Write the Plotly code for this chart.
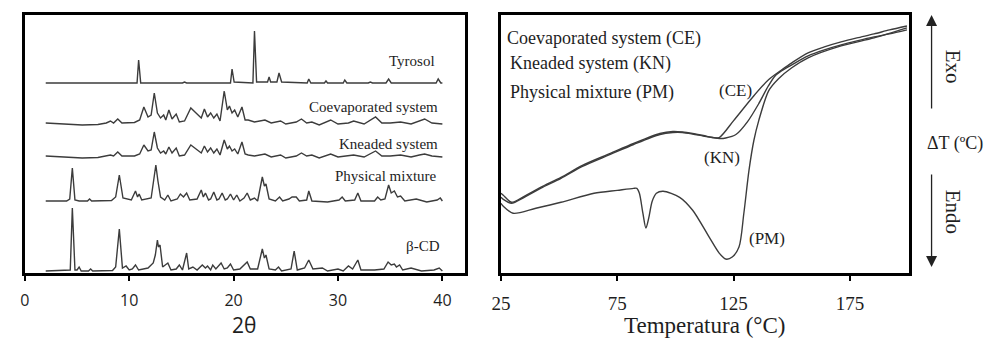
import plotly.graph_objects as go

W, H = 987, 339

# ---------------- XRD data (2θ, intensity offset for stacking) ----------------
tyrosol = [(2, 190), (10.75, 190), (10.9, 213), (11.1, 190), (15.1, 190), (15.3, 191), (15.5, 190),
           (19.7, 190), (19.85, 204), (20.05, 191), (21.85, 190), (22.0, 242), (22.2, 191),
           (23.25, 191), (23.4, 196), (23.55, 191), (24.15, 191), (24.35, 200), (24.6, 191),
           (27.05, 190), (27.2, 194), (27.4, 190), (28.7, 190), (28.85, 192), (29.0, 190),
           (30.5, 190), (30.65, 193), (30.85, 190), (32.9, 190), (33.1, 191), (33.3, 190),
           (34.6, 190), (34.85, 194), (35.1, 190), (39.4, 190), (39.6, 194), (39.85, 190), (40, 190)]

coevaporated = [(2, 150), (4, 149), (5.5, 148), (7, 148.5), (7.8, 150), (8.2, 152), (8.5, 150), (8.9, 154),
                (9.3, 150), (10.5, 150.5), (11.0, 153), (11.4, 166), (11.8, 156), (12.1, 158), (12.4, 180),
                (12.7, 160), (13.0, 155), (13.3, 158), (13.5, 153), (13.8, 163), (14.1, 154), (14.5, 159),
                (14.8, 151), (15.3, 152), (15.9, 165), (16.4, 160), (16.9, 155), (17.2, 164), (17.5, 156),
                (17.8, 160), (18.1, 155), (18.4, 159), (18.7, 152), (19.1, 182), (19.4, 163), (19.6, 167),
                (19.85, 160), (20.1, 163), (20.4, 156), (20.8, 166), (21.1, 153), (21.4, 153), (22, 151),
                (23, 153), (23.6, 150), (24.5, 152), (25, 149), (26, 151), (26.5, 154), (27, 150),
                (27.5, 151), (28.2, 148), (29.3, 153), (30, 149), (31, 150), (31.5, 152), (32.5, 149),
                (33.6, 156), (34.2, 150), (35, 150), (36, 151), (37, 149), (37.8, 152), (38.3, 154),
                (39, 150), (40, 149)]

kneaded = [(2, 117), (4, 116), (5.5, 115), (7, 115.5), (7.8, 117), (8.2, 118), (8.5, 117), (8.9, 121),
           (9.3, 117), (10.5, 117), (11.0, 119), (11.4, 128), (11.8, 122), (12.1, 123), (12.4, 141),
           (12.7, 125), (13.0, 120), (13.3, 122), (13.5, 119), (13.8, 126), (14.1, 120), (14.5, 125),
           (14.8, 117), (15.3, 118), (15.9, 128), (16.4, 124), (16.9, 120), (17.2, 127), (17.5, 121),
           (17.8, 125), (18.1, 120), (18.4, 124), (18.7, 118), (19.1, 133), (19.4, 124), (19.6, 127),
           (19.85, 122), (20.1, 124), (20.4, 119), (20.8, 131), (21.1, 119), (21.4, 118), (22, 117),
           (23, 119), (23.6, 116), (24.5, 118), (25, 115), (26, 117), (26.5, 120), (27, 117),
           (27.5, 118), (28.2, 115), (29.3, 119), (30, 116), (31, 117), (31.5, 118), (32.5, 116),
           (33.6, 122), (34.2, 117), (35, 117), (36, 118), (37, 116), (37.8, 118), (38.3, 119),
           (39, 117), (40, 116)]

physical_mixture = [(2, 72), (4.0, 72), (4.3, 74), (4.55, 105), (4.8, 73), (5.2, 72), (6.0, 72), (6.2, 74),
                    (6.4, 72), (8.3, 72.5), (8.7, 76), (9.05, 98), (9.4, 75), (10.2, 73), (10.6, 82),
                    (10.8, 76), (10.95, 79), (11.2, 73), (12.1, 75), (12.55, 108), (12.75, 92), (13.0, 76),
                    (13.4, 73), (13.7, 78), (14.0, 72), (14.6, 74), (14.9, 79), (15.2, 76), (15.5, 80),
                    (15.8, 73), (16.5, 74), (16.9, 83), (17.1, 76), (17.3, 80), (17.6, 73), (17.8, 74),
                    (18.1, 81), (18.4, 73), (18.6, 74), (18.9, 80), (19.2, 73), (19.4, 74), (19.7, 79),
                    (20.0, 73), (20.3, 78), (20.6, 72), (21.0, 75), (21.3, 80), (21.6, 73), (22.0, 75),
                    (22.3, 72), (22.75, 96), (22.95, 87), (23.1, 89), (23.4, 74), (24.0, 72), (24.4, 76),
                    (24.7, 72), (25.3, 74), (25.6, 76), (26.0, 76), (26.3, 72), (27.0, 73), (27.2, 82),
                    (27.5, 72), (29, 71), (30.1, 73), (30.4, 76), (30.7, 72), (31.6, 73), (31.9, 80),
                    (32.2, 72), (33.5, 72), (33.8, 76), (34.1, 73), (34.5, 74), (34.85, 88), (35.1, 80),
                    (35.4, 82), (35.7, 76), (36.0, 77), (36.4, 72), (37.5, 74), (38.5, 71), (39.5, 73),
                    (39.8, 75), (40, 72)]

beta_cd = [(2, 2), (4.2, 2.5), (4.35, 3), (4.55, 65), (4.8, 3), (5.0, 3), (5.2, 6), (5.4, 2), (6.1, 2),
           (6.3, 4), (6.5, 2), (8.4, 2.5), (8.7, 6), (9.05, 44), (9.35, 5), (9.7, 7), (10.0, 3), (10.3, 4),
           (10.6, 8), (10.9, 3), (11.8, 5), (12.3, 10), (12.5, 18), (12.7, 33), (12.8, 26), (12.95, 28),
           (13.2, 6), (13.7, 10), (14.0, 3), (14.5, 4), (14.8, 8), (15.1, 3), (15.5, 20), (15.7, 4),
           (16.1, 6), (16.5, 3), (17.0, 8), (17.3, 5), (17.5, 7), (17.8, 3), (18.0, 8), (18.3, 4),
           (18.8, 10), (19.1, 4), (19.4, 5), (19.7, 9), (20.0, 3), (20.6, 4), (21.3, 11), (21.6, 4),
           (22.3, 4), (22.75, 24), (22.95, 15), (23.1, 18), (23.4, 4), (24.0, 3), (24.3, 6), (24.6, 2),
           (25.5, 4), (25.8, 22), (26.1, 3), (26.8, 5), (27.2, 13), (27.6, 4), (28.5, 5), (29, 2),
           (30, 4), (30.5, 2), (31.0, 7), (31.4, 4), (31.9, 13), (32.2, 3), (33.5, 3), (34.4, 4),
           (34.8, 11), (35.1, 8), (35.4, 9), (35.6, 6), (35.9, 8), (36.2, 3), (37, 5), (38, 2),
           (39.2, 3), (39.7, 5), (40, 2)]

xrd_series = [tyrosol, coevaporated, kneaded, physical_mixture, beta_cd]
xrd_labels = ["Tyrosol", "Coevaporated system", "Kneaded system", "Physical mixture", "β-CD"]
xrd_label_pos = [(39.5, 212), (39.8, 166), (39.8, 129), (39.7, 97), (40.0, 27)]
xrd_ticks = [0, 10, 20, 30, 40]

# ---------------- DSC data (temperature °C, heat flow arbitrary) ----------------
temp_ce = [25, 26, 29.5, 35, 42, 50.8, 60, 72, 82, 93.3, 98.9, 103, 107.4, 112, 115.9, 118.8, 125, 133,
           140, 145.7, 150, 157, 164, 171.2, 178, 185.4, 192, 199.5]
dsc_ce = [80, 78, 71, 77, 86, 96, 108, 120, 130, 140, 142, 141.5, 140, 138, 136, 136, 153, 176, 194,
          204, 211, 221, 227, 232, 236, 240, 244, 248]

temp_kn = [25, 26, 29.5, 35, 42, 50.8, 60, 72, 82, 93.3, 98.9, 103, 107.4, 112, 115.9, 119, 121.6, 126,
           131, 135.8, 140, 142.9, 145.7, 150, 157, 164, 171.2, 178, 185.4, 192, 199.5]
dsc_kn = [76, 74, 70, 76, 85, 95, 107, 119, 129, 139, 141, 141, 139.5, 137.5, 136, 135, 135.5, 139,
          152, 170, 188, 198, 203, 209, 218, 224, 229, 233, 237, 240, 244]

temp_pm = [25, 26, 30.2, 40, 50.8, 65, 75, 82, 83.4, 84.5, 86, 87.3, 88.5, 90, 91.8, 94.7, 101.8, 107.4,
           114.5, 118.8, 121.6, 124.4, 127.3, 129.4, 131.6, 133.7, 135.8, 140.1, 144.3, 150, 157, 171.2,
           185.4, 199.5]
dsc_pm = [70, 67, 60, 65, 71, 80, 83, 85, 85, 80, 60, 45, 55, 72, 80, 82, 76, 63, 36, 20, 14, 16, 26,
          60, 103, 133, 153, 183, 195, 206, 216, 228, 236, 246]

dsc_series = [(temp_ce, dsc_ce), (temp_kn, dsc_kn), (temp_pm, dsc_pm)]
dsc_legend = ["Coevaporated system (CE)", "Kneaded system (KN)", "Physical mixture (PM)"]
dsc_legend_pos = [(26.6, 235), (27.9, 210), (27.9, 181)]
dsc_tags = ["(CE)", "(KN)", "(PM)"]
dsc_tag_pos = [(125.6, 183), (119.8, 116), (139.2, 35)]
dsc_ticks = [25, 75, 125, 175]

# ---------------- figure ----------------
fig = go.Figure()
LINE = "#3c3c3c"
TXT = "#1e1e1e"
SERIF = "Liberation Serif"

for pts in xrd_series:
    fig.add_trace(go.Scatter(x=[p[0] for p in pts], y=[p[1] for p in pts], mode="lines",
                             line=dict(color=LINE, width=1.4), xaxis="x", yaxis="y",
                             showlegend=False, hoverinfo="skip"))

for tx, ty in dsc_series:
    fig.add_trace(go.Scatter(x=tx, y=ty, mode="lines",
                             line=dict(color=LINE, width=1.4, shape="spline", smoothing=0.8),
                             xaxis="x2", yaxis="y2", showlegend=False, hoverinfo="skip"))

def px(x):
    return x / W

def py(y):
    return 1 - y / H

ydom = [py(273), py(15)]
axis_common = dict(showline=True, linecolor="black", linewidth=2.5, mirror=True,
                   showgrid=False, zeroline=False)

fig.update_layout(
    width=W, height=H, autosize=False,
    margin=dict(l=0, r=0, t=0, b=0),
    paper_bgcolor="white", plot_bgcolor="white",
    xaxis=dict(domain=[px(15), px(460)], range=[0, 42.2], tickvals=xrd_ticks,
               ticks="outside", ticklen=5, tickwidth=1.5, tickcolor="black",
               tickfont=dict(family="Open Sans", size=16, color=TXT),
               ticklabelstandoff=6, **axis_common),
    yaxis=dict(domain=ydom, range=[0, 258], showticklabels=False, ticks="", **axis_common),
    xaxis2=dict(domain=[px(496), px(908)], range=[25, 200.3], tickvals=dsc_ticks,
                ticks="outside", ticklen=5, tickwidth=1.5, tickcolor="black",
                tickfont=dict(family=SERIF, size=19, color=TXT),
                ticklabelstandoff=6, anchor="y2", **axis_common),
    yaxis2=dict(domain=ydom, range=[0, 259], showticklabels=False, ticks="", anchor="x2",
                **axis_common),
)

ann = []
for lab, (lx, ly) in zip(xrd_labels, xrd_label_pos):
    ann.append(dict(x=lx, y=ly, xref="x", yref="y", text=lab, showarrow=False, xanchor="right",
                    yanchor="middle", font=dict(family=SERIF, size=15, color=TXT)))
for lab, (lx, ly) in zip(dsc_legend, dsc_legend_pos):
    ann.append(dict(x=lx, y=ly, xref="x2", yref="y2", text=lab, showarrow=False, xanchor="left",
                    yanchor="middle", font=dict(family=SERIF, size=18, color=TXT)))
for lab, (lx, ly) in zip(dsc_tags, dsc_tag_pos):
    ann.append(dict(x=lx, y=ly, xref="x2", yref="y2", text=lab, showarrow=False, xanchor="center",
                    yanchor="middle", font=dict(family=SERIF, size=17, color=TXT)))

# axis titles
ann.append(dict(x=px(236), y=py(325), xref="paper", yref="paper", text="2θ", showarrow=False,
                xanchor="center", yanchor="middle", font=dict(family="Open Sans", size=21, color=TXT)))
ann.append(dict(x=px(702), y=py(325), xref="paper", yref="paper", text="Temperatura (°C)",
                showarrow=False, xanchor="center", yanchor="middle",
                font=dict(family=SERIF, size=23, color=TXT)))

# Exo / Endo side labels
ann.append(dict(x=px(953), y=py(67), xref="paper", yref="paper", text="Exo", showarrow=False,
                textangle=90, xanchor="center", yanchor="middle",
                font=dict(family=SERIF, size=21, color=TXT)))
ann.append(dict(x=px(953), y=py(212), xref="paper", yref="paper", text="Endo", showarrow=False,
                textangle=90, xanchor="center", yanchor="middle",
                font=dict(family=SERIF, size=21, color=TXT)))
ann.append(dict(x=px(955), y=py(143), xref="paper", yref="paper", text="ΔT (ºC)", showarrow=False,
                xanchor="center", yanchor="middle", font=dict(family=SERIF, size=18, color=TXT)))

# arrows
ann.append(dict(x=px(931), y=py(15), xref="paper", yref="paper", text="", showarrow=True,
                ax=0, ay=95, arrowhead=2, arrowsize=1.7, arrowwidth=1.3, arrowcolor="#222"))
ann.append(dict(x=px(931), y=py(267), xref="paper", yref="paper", text="", showarrow=True,
                ax=0, ay=-94, arrowhead=2, arrowsize=1.7, arrowwidth=1.3, arrowcolor="#222"))

fig.update_layout(annotations=ann)
fig.write_html("out.html")
